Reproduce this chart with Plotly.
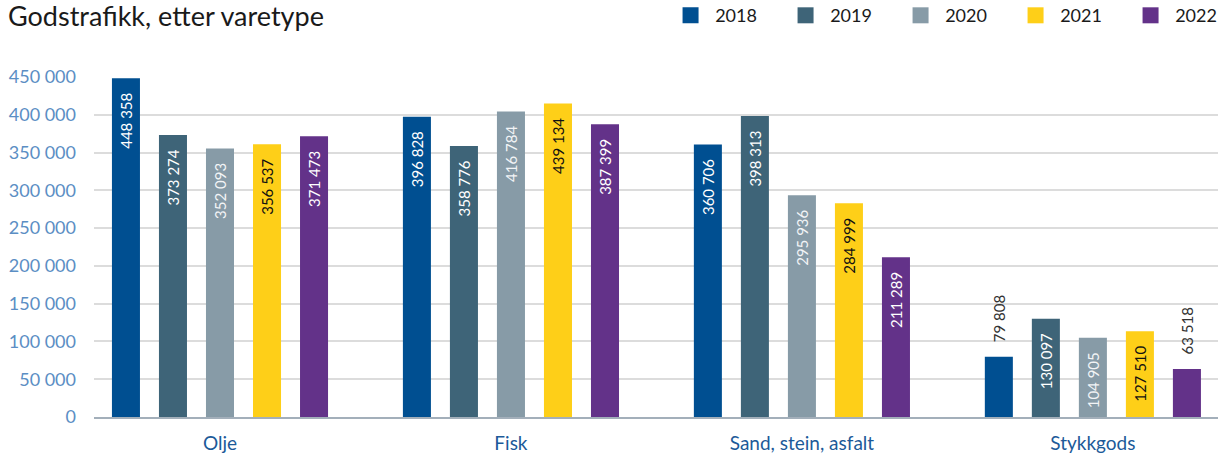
import plotly.graph_objects as go

categories = ["Olje", "Fisk", "Sand, stein, asfalt", "Stykkgods"]
years = ["2018", "2019", "2020", "2021", "2022"]

# Bar heights as drawn in the picture
bar_2018 = [448358, 397500, 360706, 79808]
bar_2019 = [373274, 358776, 398313, 130097]
bar_2020 = [355500, 404500, 293500, 104905]
bar_2021 = [361000, 415000, 283000, 113500]
bar_2022 = [371473, 387399, 211289, 63518]

# Printed labels
label_2018 = [448358, 396828, 360706, 79808]
label_2019 = [373274, 358776, 398313, 130097]
label_2020 = [352093, 416784, 295936, 104905]
label_2021 = [356537, 439134, 284999, 127510]
label_2022 = [371473, 387399, 211289, 63518]

colors = ["#004f91", "#3e6478", "#879ba7", "#fecf18", "#633289"]
inside_text_colors = ["#ffffff", "#ffffff", "#f2f4f6", "#111111", "#ffffff"]

y_ticks = [0, 50000, 100000, 150000, 200000, 250000, 300000, 350000, 400000, 450000]


def fmt(v):
    return f"{v:,}".replace(",", " ")


bars = [bar_2018, bar_2019, bar_2020, bar_2021, bar_2022]
labels = [label_2018, label_2019, label_2020, label_2021, label_2022]

FONT = "Lato, 'Open Sans', sans-serif"
fig = go.Figure()

for k, year in enumerate(years):
    vals = bars[k]
    labs = labels[k]
    texts, positions, tcolors = [], [], []
    for v, lab in zip(vals, labs):
        if v < 100000:
            texts.append("\u00a0\u00a0\u00a0" + fmt(lab))
            positions.append("outside")
            tcolors.append("#333333")
        else:
            texts.append(fmt(lab) + "\u00a0\u00a0\u00a0")
            positions.append("inside")
            tcolors.append(inside_text_colors[k])
    fig.add_trace(go.Bar(
        x=categories, y=vals, name=year,
        marker=dict(color=colors[k], line=dict(width=0)),
        text=texts, textposition=positions, textangle=-90,
        insidetextanchor="end", constraintext="none",
        textfont=dict(family=FONT, size=15, color=tcolors),
        cliponaxis=False, showlegend=False, hoverinfo="skip",
    ))
    fig.add_trace(go.Scatter(
        x=[None], y=[None], mode="markers", name="\u00a0" + year,
        marker=dict(symbol="square", size=16, color=colors[k]),
        showlegend=True,
    ))

fig.update_layout(
    width=1227, height=459,
    margin=dict(l=94, r=9, t=77, b=42, autoexpand=False),
    paper_bgcolor="white", plot_bgcolor="white",
    barmode="group", bargap=0.192, bargroupgap=0.404,
    font=dict(family=FONT),
    title=dict(text="Godstrafikk, etter varetype", x=0.0, xanchor="left",
               y=0.965, yanchor="middle", pad=dict(l=8),
               font=dict(family=FONT, size=27, color="#1a1a1a")),
    legend=dict(orientation="h", x=0.5465, xref="container", xanchor="left",
                y=0.966, yref="container", yanchor="middle",
                font=dict(family=FONT, size=18, color="#1a1a1a"),
                entrywidth=70, entrywidthmode="pixels", itemsizing="trace",
                bgcolor="rgba(0,0,0,0)"),
    xaxis=dict(range=[-0.433, 3.43], showgrid=False, showline=True,
               linecolor="#a3afba", linewidth=2, ticks="", automargin=False,
               tickfont=dict(family=FONT, size=19, color="#1c5a99"),
               ticklabelstandoff=8),
    yaxis=dict(range=[0, 450000], tickvals=y_ticks, automargin=False,
               ticktext=[fmt(v) for v in y_ticks],
               showgrid=True, gridcolor="#dcdcdc", gridwidth=1.5,
               zeroline=False, showline=False,
               tickfont=dict(family=FONT, size=18, color="#5b8ec4"),
               ticklabelstandoff=17),
)

fig.write_html("out.html", config={"displayModeBar": False},
               post_script="document.body.style.margin='0';document.body.style.overflow='hidden';")
